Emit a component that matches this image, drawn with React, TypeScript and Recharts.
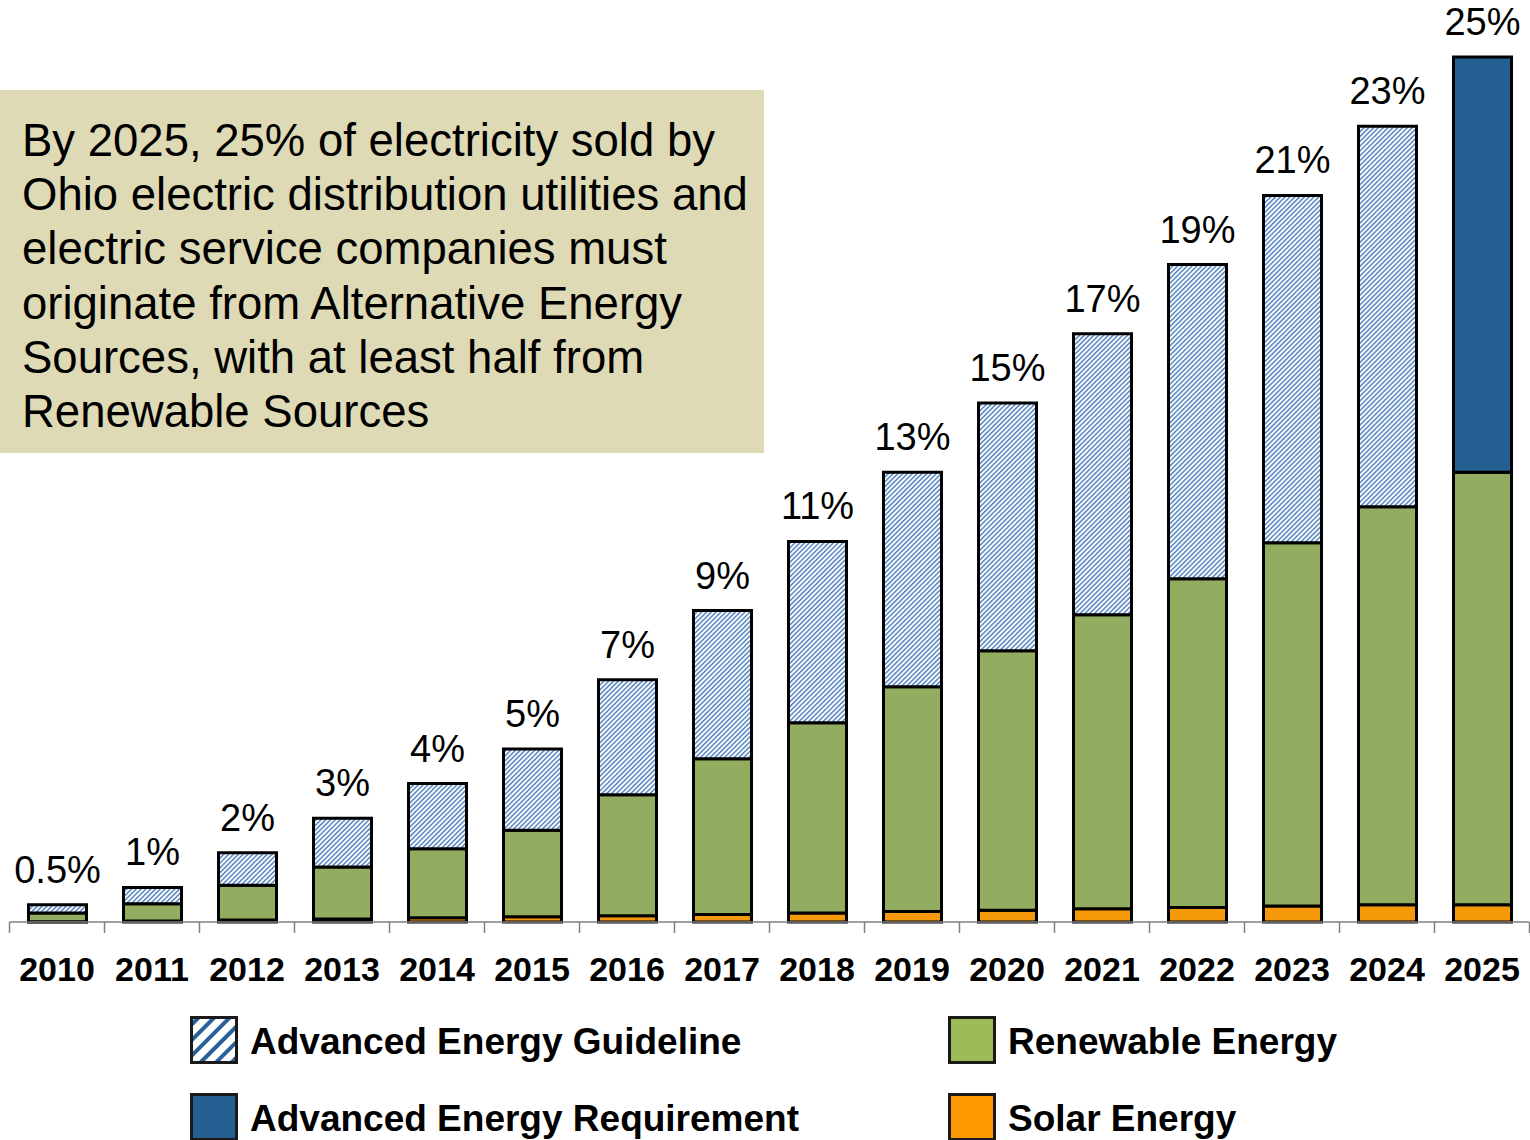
import { Bar, BarChart, LabelList, XAxis, YAxis } from "recharts";

const years = ["2010", "2011", "2012", "2013", "2014", "2015", "2016", "2017", "2018", "2019", "2020", "2021", "2022", "2023", "2024", "2025"];
const solar = [0.01, 0.03, 0.06, 0.09, 0.12, 0.15, 0.18, 0.22, 0.26, 0.3, 0.34, 0.38, 0.42, 0.46, 0.5, 0.5];
const renewable = [0.25, 0.5, 1, 1.5, 2, 2.5, 3.5, 4.5, 5.5, 6.5, 7.5, 8.5, 9.5, 10.5, 11.5, 12.5];
const guideline = [0.24, 0.47, 0.94, 1.41, 1.88, 2.35, 3.32, 4.28, 5.24, 6.2, 7.16, 8.12, 9.08, 10.04, 11.0, 0];
const requirement = [0, 0, 0, 0, 0, 0, 0, 0, 0, 0, 0, 0, 0, 0, 0, 12];
const totalLabels = ["0.5%", "1%", "2%", "3%", "4%", "5%", "7%", "9%", "11%", "13%", "15%", "17%", "19%", "21%", "23%", "25%"];

const noteLines = [
  "By 2025, 25% of electricity sold by",
  "Ohio electric distribution utilities and",
  "electric service companies must",
  "originate from Alternative Energy",
  "Sources, with at least half from",
  "Renewable Sources",
];

const legendItems = [
  { name: "Advanced Energy Guideline", fill: "url(#legendHatch)", x: 190, y: 1016 },
  { name: "Renewable Energy", fill: "#9BBB59", x: 948, y: 1016 },
  { name: "Advanced Energy Requirement", fill: "#255E91", x: 190, y: 1093 },
  { name: "Solar Energy", fill: "#FF9900", x: 948, y: 1093 },
];

const FONT = '"Liberation Sans", Arial, sans-serif';
const W = 1530;
const H = 1140;
const PLOT_LEFT = 9.5;
const PLOT_RIGHT = 1529.5;
const PLOT_TOP = 57;
const PLOT_BOTTOM = 922;
const X_AXIS_H = 60;
const HALF_BAND = (PLOT_RIGHT - PLOT_LEFT) / years.length / 2;

// zero segments stay undefined so they get no rect and no label
const data = years.map((year, i) => ({
  year,
  solar: solar[i],
  renewable: renewable[i],
  guideline: guideline[i] || undefined,
  requirement: requirement[i] || undefined,
  label: totalLabels[i],
}));

function YearTick(props: any) {
  const { x, payload, index } = props;
  return (
    <g>
      <line x1={x - HALF_BAND} x2={x - HALF_BAND} y1={PLOT_BOTTOM} y2={PLOT_BOTTOM + 11} stroke="#808080" strokeWidth={1.5} />
      {index === years.length - 1 && (
        <line x1={x + HALF_BAND} x2={x + HALF_BAND} y1={PLOT_BOTTOM} y2={PLOT_BOTTOM + 11} stroke="#808080" strokeWidth={1.5} />
      )}
      <text x={x} y={PLOT_BOTTOM + 59} textAnchor="middle" fontFamily={FONT} fontWeight="bold" fontSize={34} fill="#000">
        {payload.value}
      </text>
    </g>
  );
}

function TotalLabel(props: any) {
  const { x, y, width, height, value } = props;
  if (!height) return null;
  return (
    <text x={x + width / 2} y={y - 22} textAnchor="middle" fontFamily={FONT} fontSize={38} fill="#000">
      {value}
    </text>
  );
}

export default function App() {
  const stroke = { stroke: "#000", strokeWidth: 3 };
  return (
    <div style={{ position: "absolute", left: 0, top: 0, width: W, height: H, overflow: "hidden", background: "#fff" }}>
      <svg width={0} height={0} style={{ position: "absolute" }}>
        <defs>
          <pattern id="legendHatch" width="11" height="11" patternUnits="userSpaceOnUse" patternTransform="rotate(45)">
            <rect width="11" height="11" fill="#fff" />
            <rect width="4" height="11" fill="#2A6099" />
          </pattern>
        </defs>
      </svg>

      <BarChart
        width={W}
        height={H}
        data={data}
        margin={{ top: PLOT_TOP, right: W - PLOT_RIGHT, left: PLOT_LEFT, bottom: H - PLOT_BOTTOM - X_AXIS_H }}
        barSize={58}
      >
        <defs>
          <pattern id="barHatch" width="3.4" height="3.4" patternUnits="userSpaceOnUse" patternTransform="rotate(45)">
            <rect width="3.4" height="3.4" fill="#fff" />
            <rect width="1.5" height="3.4" fill="#5584C2" />
          </pattern>
        </defs>
        <XAxis
          dataKey="year"
          height={X_AXIS_H}
          axisLine={{ stroke: "#808080", strokeWidth: 1.5 }}
          tickLine={false}
          interval={0}
          tick={<YearTick />}
        />
        <YAxis hide domain={[0, 25]} />
        <Bar dataKey="solar" stackId="a" fill="#F5990A" {...stroke} isAnimationActive={false} />
        <Bar dataKey="renewable" stackId="a" fill="#92AD5F" {...stroke} isAnimationActive={false} />
        <Bar dataKey="guideline" stackId="a" fill="url(#barHatch)" {...stroke} isAnimationActive={false}>
          <LabelList dataKey="label" content={<TotalLabel />} />
        </Bar>
        <Bar dataKey="requirement" stackId="a" fill="#255E91" {...stroke} isAnimationActive={false}>
          <LabelList dataKey="label" content={<TotalLabel />} />
        </Bar>
      </BarChart>

      <svg width={764} height={363} style={{ position: "absolute", left: 0, top: 90 }}>
        <rect x={0} y={0} width={764} height={363} fill="#DEDAB5" />
        {noteLines.map((line, i) => (
          <text key={line} x={22} y={66 + i * 54.2} fontFamily={FONT} fontSize={45.5} fill="#000">
            {line}
          </text>
        ))}
      </svg>

      <svg width={W} height={H} style={{ position: "absolute", left: 0, top: 0, pointerEvents: "none" }}>
        {legendItems.map((item) => (
          <g key={item.name}>
            <rect x={item.x + 1.5} y={item.y + 1.5} width={45} height={45} fill={item.fill} stroke="#1a1a1a" strokeWidth={3} />
            <text x={item.x + 60} y={item.y + 38} fontFamily={FONT} fontWeight="bold" fontSize={37} fill="#000">
              {item.name}
            </text>
          </g>
        ))}
      </svg>
    </div>
  );
}
